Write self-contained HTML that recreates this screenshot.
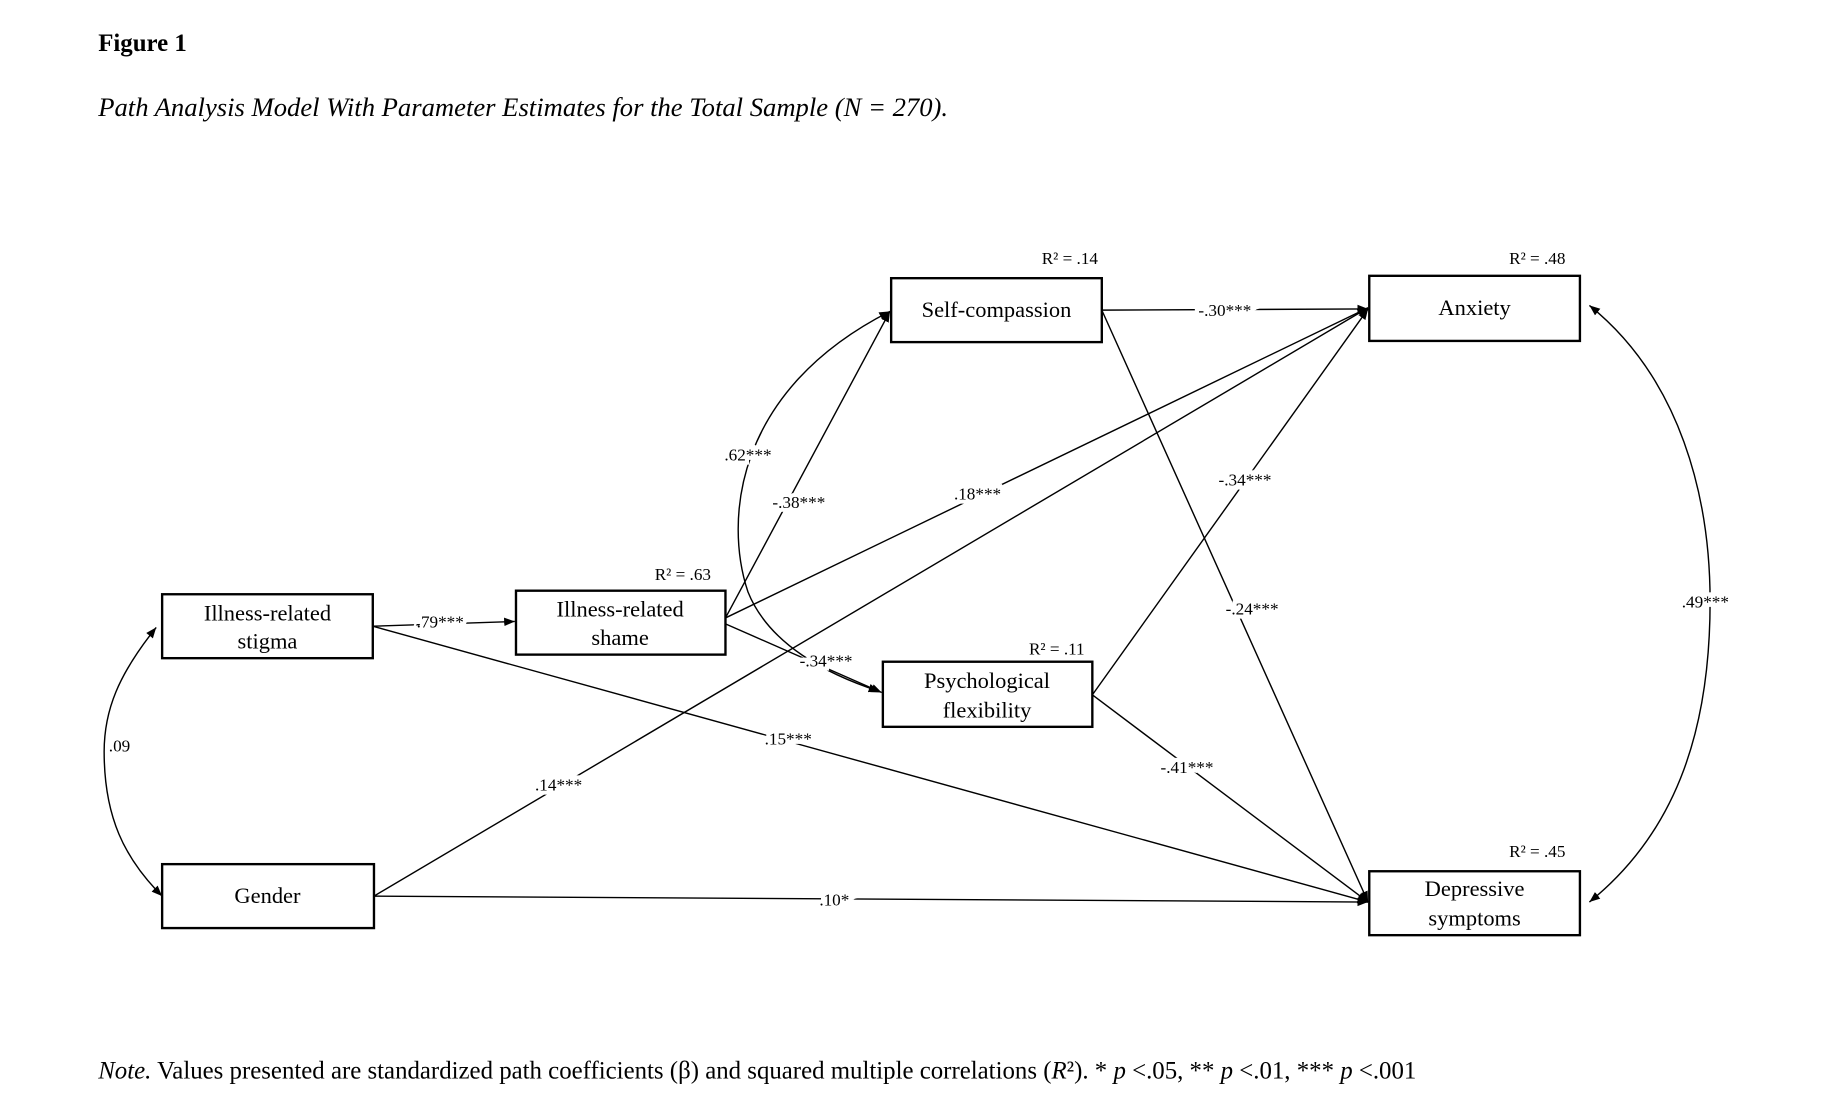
<!DOCTYPE html>
<html><head><meta charset="utf-8"><style>
html,body{margin:0;padding:0;background:#fff;}
svg{display:block;}
text{font-family:"Liberation Serif",serif;fill:#000;}
.lb{font-size:14.5px;stroke:#fff;stroke-width:7px;paint-order:stroke;}
.bx{font-size:19px;}
</style></head><body>
<svg width="1832" height="1108" viewBox="0 0 1548 936" preserveAspectRatio="none" xmlns="http://www.w3.org/2000/svg">
<defs><marker id="a" viewBox="0 0 10 10" refX="10" refY="5" markerWidth="9" markerHeight="9" markerUnits="userSpaceOnUse" orient="auto-start-reverse"><path d="M0,1 L10,5 L0,9 z" fill="#000"/></marker></defs>
<text x="83" y="43" font-size="21" font-weight="bold">Figure 1</text>
<text x="83" y="98" font-size="22.5" font-style="italic">Path Analysis Model With Parameter Estimates for the Total Sample (N = 270).</text>
<g stroke="#000" stroke-width="1.2" fill="none">
<line x1="315" y1="529" x2="435" y2="525" marker-end="url(#a)"/>
<line x1="613" y1="522" x2="752" y2="263" marker-end="url(#a)"/>
<path d="M743,584 C700,570 650,545 632,500 C612,440 620,330 752,263" marker-start="url(#a)" marker-end="url(#a)"/>
<line x1="613" y1="527" x2="745" y2="585" marker-end="url(#a)"/>
<line x1="613" y1="522" x2="1156" y2="260" marker-end="url(#a)"/>
<line x1="316" y1="757" x2="1156" y2="260" marker-end="url(#a)"/>
<line x1="315" y1="529" x2="1156" y2="762" marker-end="url(#a)"/>
<line x1="316" y1="757" x2="1156" y2="762" marker-end="url(#a)"/>
<line x1="931" y1="262" x2="1156" y2="261" marker-end="url(#a)"/>
<line x1="931" y1="262" x2="1156" y2="762" marker-end="url(#a)"/>
<line x1="923" y1="587" x2="1156" y2="261" marker-end="url(#a)"/>
<line x1="923" y1="587" x2="1156" y2="762" marker-end="url(#a)"/>
<path d="M1343,258 C1420,320 1445,420 1445,508 C1445,610 1420,700 1343,762" marker-start="url(#a)" marker-end="url(#a)"/>
<path d="M132,530 C100,570 88,600 88,635 C88,690 105,725 137,757" marker-start="url(#a)" marker-end="url(#a)"/>
</g>
<g fill="#fff" stroke="#000" stroke-width="2">
<rect x="753" y="235" width="178" height="54"/>
<rect x="1157" y="233" width="178" height="55"/>
<rect x="137" y="502" width="178" height="54"/>
<rect x="436" y="499" width="177" height="54"/>
<rect x="746" y="559" width="177" height="55"/>
<rect x="137" y="730" width="179" height="54"/>
<rect x="1157" y="736" width="178" height="54"/>
</g>
<g class="bx" text-anchor="middle">
<text x="842" y="268">Self-compassion</text>
<text x="1246" y="266">Anxiety</text>
<text x="226" y="524">Illness-related</text><text x="226" y="548">stigma</text>
<text x="524" y="521">Illness-related</text><text x="524" y="545">shame</text>
<text x="834" y="581">Psychological</text><text x="834" y="606">flexibility</text>
<text x="226" y="763">Gender</text>
<text x="1246" y="757">Depressive</text><text x="1246" y="782">symptoms</text>
</g>
<g class="lb" text-anchor="middle">
<text x="372" y="530">.79***</text>
<text x="632" y="389">.62***</text>
<text x="675" y="429">-.38***</text>
<text x="826" y="422">.18***</text>
<text x="698" y="563">-.34***</text>
<text x="666" y="629">.15***</text>
<text x="472" y="668">.14***</text>
<text x="705" y="765">.10*</text>
<text x="1035" y="267">-.30***</text>
<text x="1058" y="519">-.24***</text>
<text x="1052" y="410">-.34***</text>
<text x="1003" y="653">-.41***</text>
<text x="1441" y="513">.49***</text>
<text x="101" y="635">.09</text>
<text x="904" y="223">R² = .14</text>
<text x="1299" y="223">R² = .48</text>
<text x="577" y="490">R² = .63</text>
<text x="893" y="553">R² = .11</text>
<text x="1299" y="724">R² = .45</text>
</g>
<text x="83" y="911" font-size="21"><tspan font-style="italic">Note.</tspan> Values presented are standardized path coefficients (β) and squared multiple correlations (<tspan font-style="italic">R</tspan>²). * <tspan font-style="italic">p</tspan> &lt;.05, ** <tspan font-style="italic">p</tspan> &lt;.01, *** <tspan font-style="italic">p</tspan> &lt;.001</text>
</svg>
</body></html>
